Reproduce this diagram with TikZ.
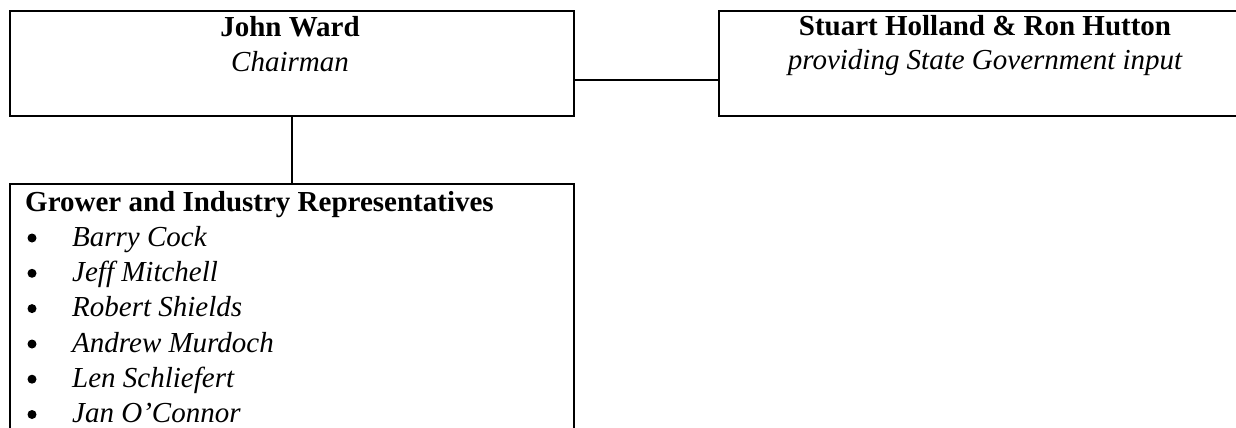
\documentclass[tikz,border=0pt]{standalone}
\usepackage{fontspec}
\setmainfont{Liberation Serif}
\begin{document}
\begin{tikzpicture}[x=1pt,y=-1pt,
  box/.style={draw, line width=2pt, rectangle, inner sep=0pt, anchor=north west},
  link/.style={line width=1.6pt},
  txt/.style={inner sep=0pt, font=\fontsize{29}{35}\selectfont},
  head/.style={txt, font=\fontsize{29}{35}\selectfont\bfseries},
  sub/.style={txt, font=\fontsize{29}{35}\selectfont\itshape},
  item/.style={sub, anchor=base west},
  bul/.style={circle, fill, inner sep=0pt, minimum size=9pt}]
\useasboundingbox (0,0) rectangle (1236,428);
\clip (0,0) rectangle (1236,428);
% boxes
\node[box, minimum width=564pt, minimum height=105pt] (chair) at (9,10) {};
\node[box, minimum width=534pt, minimum height=105pt] (state) at (718,10) {};
\node[box, minimum width=564pt, minimum height=300pt] (reps) at (9,183) {};
% connectors
\coordinate (hl) at (0,80);
\draw[link] (chair.east |- hl) -- (state.west |- hl);
\draw[link] (chair.south) -- (reps.north);
% texts
\node[head, anchor=base] (jw) at (290,37) {John Ward};
\node[sub, anchor=base] (jwr) at (290,71.5) {Chairman};
\node[head, anchor=base] (sh) at (985,36) {Stuart Holland \& Ron Hutton};
\node[sub, anchor=base] (shr) at (985,69.5) {providing State Government input};
\node[head, anchor=base west] (rh) at (25,211) {Grower and Industry Representatives};
\node[bul] (b1) at (32,238) {};
\node[item] (i1) at (72,246) {Barry Cock};
\node[bul] (b2) at (32,273.3) {};
\node[item] (i2) at (72,281.3) {Jeff Mitchell};
\node[bul] (b3) at (32,308.6) {};
\node[item] (i3) at (72,316.6) {Robert Shields};
\node[bul] (b4) at (32,344) {};
\node[item] (i4) at (72,352) {Andrew Murdoch};
\node[bul] (b5) at (32,379.2) {};
\node[item] (i5) at (72,387.2) {Len Schliefert};
\node[bul] (b6) at (32,414.5) {};
\node[item] (i6) at (72,422.5) {Jan O’Connor};
\end{tikzpicture}
\end{document}
